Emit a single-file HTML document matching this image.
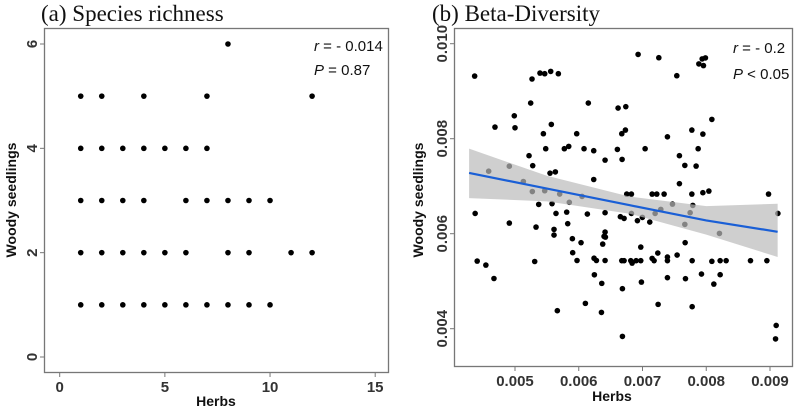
<!DOCTYPE html>
<html><head><meta charset="utf-8"><style>
body{margin:0;background:#fff;width:795px;height:408px;overflow:hidden}
svg{display:block}
.tt{font-family:"Liberation Serif",serif;font-size:23px;fill:#111}
.tk{font-family:"Liberation Sans",sans-serif;font-weight:bold;font-size:15px;fill:#333}
.ax{font-family:"Liberation Sans",sans-serif;font-weight:bold;font-size:14px;fill:#111}
.an{font-family:"Liberation Sans",sans-serif;font-size:15px;fill:#111}
</style></head><body>
<svg id="s" width="795" height="408"></svg>
<script>
// Panel (a) data
const aHerbs = [1,2,4,7,12, 1,2,3,4,5,6,7, 1,2,3,4,6,7,8,9,10, 1,2,3,4,5,6,8,9,11,12, 1,2,3,4,5,6,7,8,9,10, 8];
const aWoody = [5,5,5,5,5, 4,4,4,4,4,4,4, 3,3,3,3,3,3,3,3,3, 2,2,2,2,2,2,2,2,2,2, 1,1,1,1,1,1,1,1,1,1, 6];
const aXTicks = [0,5,10,15];
const aYTicks = [0,2,4,6];
// Panel (b) data (x1e-3)
const bHerbs = [4.367,5.392,5.466,5.560,5.680,5.267,5.246,6.150,6.617,4.989,4.686,5.000,5.570,5.445,5.968,5.482,5.774,5.843,6.083,6.235,6.606,5.220,5.278,6.413,4.587,4.911,5.549,5.633,6.235,5.131,5.272,5.466,5.701,5.852,6.052,5.372,5.581,4.375,5.643,5.811,6.135,6.413,4.911,5.827,5.330,5.612,5.612,6.413,6.397,6.418,6.376,5.900,6.036,5.905,4.407,4.543,5.309,5.973,6.240,6.277,6.413,4.670,6.245,6.361,6.104,5.664,6.356,
6.931,7.256,7.884,7.956,7.936,7.987,7.538,6.738,6.675,6.732,7.391,7.774,7.947,8.088,7.041,6.680,7.873,7.579,7.664,7.841,7.579,6.753,6.826,7.151,7.224,7.339,7.774,7.947,8.041,8.977,7.470,7.789,6.653,6.711,6.826,6.920,6.998,7.114,7.198,7.287,7.747,7.664,8.207,9.124,7.669,6.973,6.675,6.711,6.816,6.837,6.900,6.973,7.151,7.182,7.240,7.391,7.391,7.543,7.779,8.088,8.218,8.312,8.694,8.951,7.925,8.218,7.391,7.674,8.119,6.983,6.685,7.245,7.779,6.685,9.097,9.087];
const bWoody = [9.318,9.381,9.368,9.417,9.368,9.257,8.750,8.750,8.645,8.482,8.244,8.230,8.301,8.105,8.105,7.789,7.789,7.838,7.789,7.747,7.775,7.642,7.432,7.549,7.316,7.421,7.274,7.301,7.141,7.099,6.888,6.905,6.835,6.661,6.785,6.617,6.632,6.427,6.427,6.454,6.413,6.442,6.223,6.211,6.139,6.091,5.971,6.034,5.943,5.928,5.781,5.895,5.811,5.600,5.423,5.339,5.415,5.436,5.484,5.436,5.436,5.057,5.135,4.954,4.533,4.379,4.343,
9.775,9.705,9.575,9.539,9.680,9.701,9.326,8.674,8.105,8.181,8.040,8.181,8.097,8.406,7.789,7.564,7.789,7.642,7.438,7.423,7.053,6.834,6.834,6.834,6.834,6.834,6.834,6.863,6.897,6.834,6.623,6.596,6.358,6.322,6.427,6.274,6.343,6.245,6.427,6.512,6.442,6.196,6.006,6.427,5.811,5.718,5.432,5.432,5.432,5.381,5.432,5.432,5.480,5.432,5.592,5.508,5.432,5.550,5.432,5.418,5.432,5.432,5.432,5.432,5.150,5.137,5.074,5.053,4.939,4.981,4.842,4.512,4.463,3.838,4.069,3.785];
const bXTicks = [5,6,7,8,9];
const bYTicks = [4,6,8,10];
// fitted line and 95% band (x, fit, lower, upper)
const fitX = [4.28, 5.5, 6.8, 8.0, 9.12];
const fitY = [7.28, 6.95, 6.60, 6.28, 6.04];
const fitLo = [6.75, 6.68, 6.42, 5.98, 5.51];
const fitHi = [7.79, 7.22, 6.78, 6.58, 6.63];

const NS='http://www.w3.org/2000/svg', S=document.getElementById('s');
function mk(t,a,p){const e=document.createElementNS(NS,t);for(const k in a)e.setAttribute(k,a[k]);(p||S).appendChild(e);return e;}
function sc(d0,d1,r0,r1){return v=>r0+(v-d0)/(d1-d0)*(r1-r0);}

// Panel A
const ax=sc(0,15,59.7,375.2), ay=sc(0,6,357,44);
let t=mk('text',{x:41,y:21,class:'tt'});t.textContent='(a) Species richness';

let b=mk('rect',{x:44.5,y:28.5,width:344,height:344,fill:'none',stroke:'#777','stroke-width':1.3});

aXTicks.forEach(v=>{mk('line',{x1:ax(v),x2:ax(v),y1:373,y2:377,stroke:'#777'});
 const e=mk('text',{x:ax(v),y:392,class:'tk','text-anchor':'middle'});e.textContent=v;
 });
aYTicks.forEach(v=>{mk('line',{x1:40,x2:44,y1:ay(v),y2:ay(v),stroke:'#777'});
 const e=mk('text',{x:37,y:ay(v),class:'tk','text-anchor':'middle',transform:`rotate(-90 37 ${ay(v)})`});e.textContent=v;
 });
t=mk('text',{x:216,y:406,class:'ax','text-anchor':'middle'});t.textContent='Herbs';

t=mk('text',{x:16,y:200,class:'ax','text-anchor':'middle',transform:'rotate(-90 16 200)'});t.textContent='Woody seedlings';

aHerbs.forEach((v,i)=>{const c=mk('circle',{cx:ax(v),cy:ay(aWoody[i]),r:2.8,fill:'#000'});
 });
t=mk('text',{x:314,y:51,class:'an'});t.innerHTML='<tspan font-style="italic">r</tspan> = - 0.014';

t=mk('text',{x:314,y:75,class:'an'});t.innerHTML='<tspan font-style="italic">P</tspan> = 0.87';


// Panel B
const bx=sc(5,9,515,770), by=sc(4,10,328.7,43.7);
t=mk('text',{x:432,y:21,class:'tt'});t.textContent='(b) Beta-Diversity';

b=mk('rect',{x:454.5,y:28.5,width:338,height:338,fill:'none',stroke:'#777','stroke-width':1.3});

bXTicks.forEach(v=>{mk('line',{x1:bx(v),x2:bx(v),y1:367,y2:371,stroke:'#777'});
 const e=mk('text',{x:bx(v),y:386,class:'tk','text-anchor':'middle'});e.textContent=(v/1000).toFixed(3);
 });
bYTicks.forEach(v=>{mk('line',{x1:450,x2:454,y1:by(v),y2:by(v),stroke:'#777'});
 const e=mk('text',{x:447,y:by(v),class:'tk','text-anchor':'middle',transform:`rotate(-90 447 ${by(v)})`});e.textContent=(v/1000).toFixed(3);
 });
t=mk('text',{x:612,y:401,class:'ax','text-anchor':'middle'});t.textContent='Herbs';

t=mk('text',{x:423,y:200,class:'ax','text-anchor':'middle',transform:'rotate(-90 423 200)'});t.textContent='Woody seedlings';

bHerbs.forEach((v,i)=>{const c=mk('circle',{cx:bx(v),cy:by(bWoody[i]),r:2.8,fill:'#000'});
 });
let pts=fitX.map((x,i)=>bx(x)+','+by(fitHi[i])).concat(fitX.map((x,i)=>bx(x)+','+by(fitLo[i])).reverse());
let band=mk('polygon',{points:pts.join(' '),fill:'#bbb','fill-opacity':0.7});

let ln=mk('polyline',{points:fitX.map((x,i)=>bx(x)+','+by(fitY[i])).join(' '),fill:'none',stroke:'#1a5fd6','stroke-width':2.2});

t=mk('text',{x:733,y:53,class:'an'});t.innerHTML='<tspan font-style="italic">r</tspan> = - 0.2';

t=mk('text',{x:733,y:79,class:'an'});t.innerHTML='<tspan font-style="italic">P</tspan> &lt; 0.05';

</script>
</body></html>
